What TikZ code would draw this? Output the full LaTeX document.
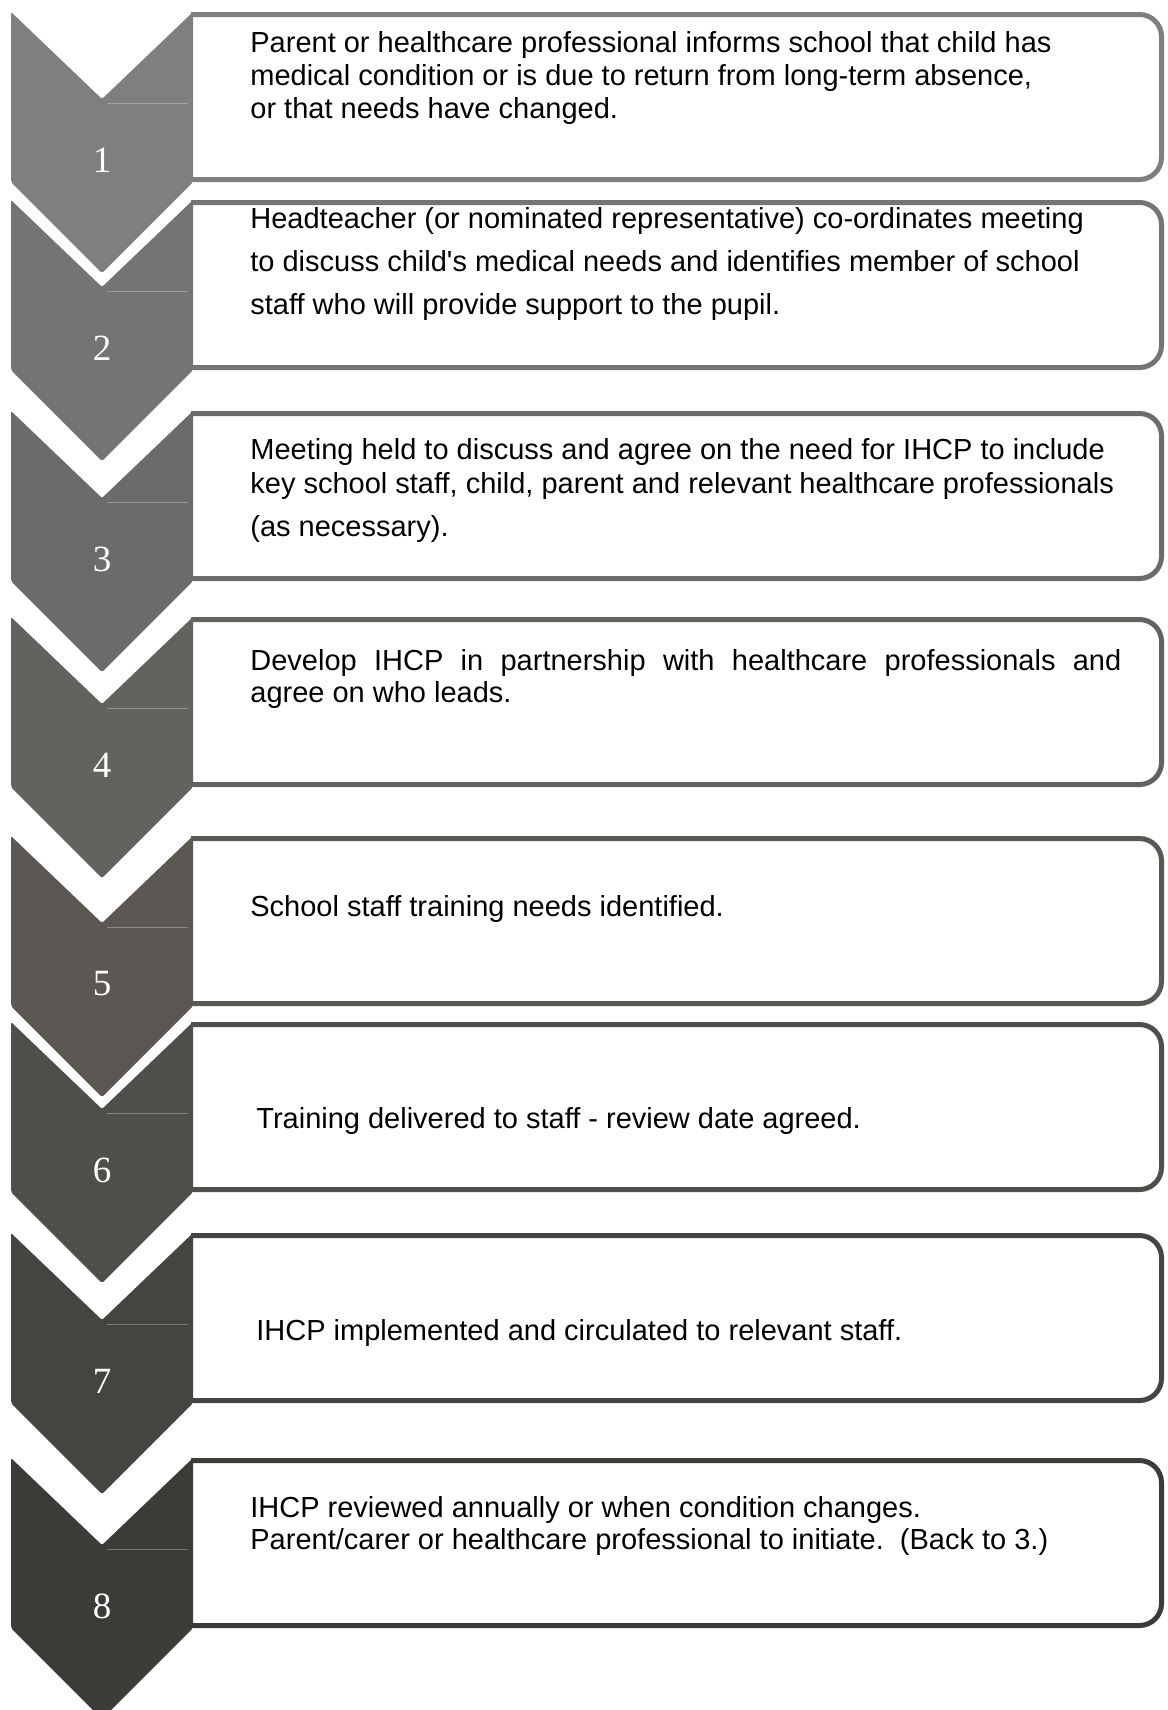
\documentclass[tikz,border=0pt]{standalone}
\usepackage{fontspec}
\setmainfont{Liberation Sans}
\newfontfamily\numfont{Liberation Serif}
\definecolor{c1}{RGB}{127,127,127}
\definecolor{c2}{RGB}{117,116,115}
\definecolor{c3}{RGB}{108,107,105}
\definecolor{c4}{RGB}{100,98,94}
\definecolor{c5}{RGB}{91,88,84}
\definecolor{c6}{RGB}{80,78,74}
\definecolor{c7}{RGB}{70,68,64}
\definecolor{c8}{RGB}{61,59,55}
\begin{document}
\begin{tikzpicture}[x=0.5pt,y=-0.5pt,
  txt/.style={anchor=base west, inner sep=0pt, font=\fontsize{14.5}{16}\selectfont, text=black},
  num/.style={text=white, font=\numfont\fontsize{18.5}{20}\selectfont, inner sep=0pt},
  stepbox/.style={draw=#1, line width=2.5pt, fill=white, rounded corners=11pt},
  chev/.style={fill=#1, rounded corners=1pt},
  sheen/.style={draw=white, draw opacity=0.3, line width=0.5pt}]
\useasboundingbox (0,0) rectangle (1168,1710);
\fill[white] (0,0) rectangle (1168,1710);
\foreach \k/\y in {1/12,2/200,3/411,4/617,5/836,6/1022,7/1233,8/1458}{
  \begin{scope}
    \clip (191,\y-5) rectangle (1170,\y+175);
    \draw[stepbox=c\k] (150,\y+2.5) rectangle (1161.5,\y+167.5);
  \end{scope}
  \fill[chev=c\k] (11,\y) -- (102,\y+87) -- (193,\y) -- (193,\y+170) -- (102,\y+261) -- (11,\y+170) -- cycle;
  \draw[sheen] (107,\y+91) -- (188,\y+91);
  \node[num] (num\k) at (102,\y+148) {\k};
}
% step 1
\node[txt] (t1a) at (250,52.7) {Parent or healthcare professional informs school that child has};
\node[txt] (t1b) at (250,85) {medical condition or is due to return from long-term absence,};
\node[txt] (t1c) at (250,118) {or that needs have changed.};
% step 2
\node[txt] (t2a) at (250,228) {Headteacher (or nominated representative) co-ordinates meeting};
\node[txt] (t2b) at (250,271.5) {to discuss child\textquotesingle s medical needs and identifies member of school};
\node[txt] (t2c) at (250,314) {staff who will provide support to the pupil.};
% step 3
\node[txt] (t3a) at (250,459) {Meeting held to discuss and agree on the need for IHCP to include};
\node[txt] (t3b) at (250,493) {key school staff, child, parent and relevant healthcare professionals};
\node[txt] (t3c) at (250,536.5) {(as necessary).};
% step 4
\node[txt] (t4a) at (250,670.5) {\makebox[435.5pt][s]{Develop IHCP in partnership with healthcare professionals and}};
\node[txt] (t4b) at (250,702) {agree on who leads.};
% step 5
\node[txt] (t5a) at (250,916) {School staff training needs identified.};
% step 6
\node[txt] (t6a) at (256,1128) {Training delivered to staff - review date agreed.};
% step 7
\node[txt] (t7a) at (256,1340) {IHCP implemented and circulated to relevant staff.};
% step 8
\node[txt] (t8a) at (250,1517) {IHCP reviewed annually or when condition changes.};
\node[txt] (t8b) at (250,1549.5) {Parent/carer or healthcare professional to initiate.\ \ (Back to 3.)};
\end{tikzpicture}
\end{document}
